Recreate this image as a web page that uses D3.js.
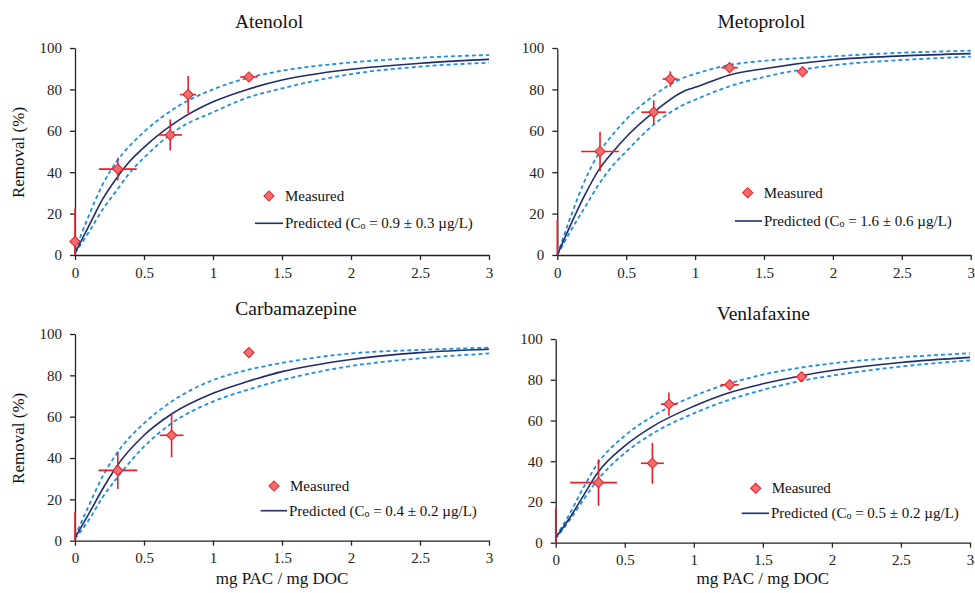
<!DOCTYPE html>
<html>
<head>
<meta charset="utf-8">
<script src="https://cdn.jsdelivr.net/npm/d3@7"></script>
<style>
  body { margin: 0; background: #fff; }
  svg { display: block; }
  svg text { font-family: "Liberation Serif", "Times New Roman", serif; }
</style>
</head>
<body>
<script>
// ---- data ----
const compounds = ["Atenolol", "Metoprolol", "Carbamazepine", "Venlafaxine"];
const c0Labels = ["0.9 ± 0.3", "1.6 ± 0.6", "0.4 ± 0.2", "0.5 ± 0.2"];
const xTicks = [0, 0.5, 1, 1.5, 2, 2.5, 3];
const yTicks = [0, 20, 40, 60, 80, 100];

// measured points (mg PAC / mg DOC, removal %)
const atenololX    = [0, 0.31, 0.69, 0.82, 1.26];
const atenololY    = [6.5, 41.5, 58, 77.5, 86];
const atenololXErr = [0, 0.137, 0.086, 0.058, 0.063];
const atenololYErr = [16, 5.5, 7.5, 9, 1.5];

const metoprololX    = [0, 0.31, 0.70, 0.82, 1.25, 1.78];
const metoprololY    = [0, 50, 69, 85, 90.5, 88.5];
const metoprololXErr = [0, 0.137, 0.09, 0.056, 0.06, 0];
const metoprololYErr = [17, 9.6, 5.7, 3.7, 1.5, 0];

const carbamazepineX    = [0, 0.31, 0.70, 1.26];
const carbamazepineY    = [0, 34, 51, 91];
const carbamazepineXErr = [0, 0.14, 0.086, 0];
const carbamazepineYErr = [14, 9, 10.7, 0];

const venlafaxineX    = [0, 0.31, 0.70, 0.82, 1.26, 1.78];
const venlafaxineY    = [0, 29.5, 39, 68, 77.5, 81.5];
const venlafaxineXErrLo = [0, 0.205, 0.083, 0.058, 0.066, 0];
const venlafaxineXErrHi = [0, 0.133, 0.083, 0.058, 0.066, 0];
const venlafaxineYErr = [16.8, 11.4, 10, 5.7, 2.5, 1.5];

// predicted curves (solid) and bounds (dashed)
const atenololCurveX = [0, 0.1, 0.2, 0.3, 0.4, 0.5, 0.75, 1, 1.25, 1.5, 2, 2.5, 3];
const atenololPred   = [1, 14, 27, 37, 45.5, 52, 65, 74, 80, 84.5, 89.7, 92.6, 94.5];
const atenololUpper  = [2, 19, 34, 45, 53, 59.5, 72, 80, 85.5, 89, 93, 95.3, 96.6];
const atenololLower  = [1, 11, 22, 31, 40, 47, 61, 69, 76, 80.5, 87.4, 91, 92.9];

const metoprololCurveX = [0, 0.1, 0.2, 0.3, 0.4, 0.5, 0.7, 0.93, 1, 1.25, 1.5, 2, 2.5, 3];
const metoprololPred   = [0, 15, 29, 41, 49.5, 57, 69, 79.5, 81, 87, 90, 94.3, 96.2, 97.3];
const metoprololUpper  = [0, 19, 36, 49, 58, 65.5, 77, 86, 87.5, 91.8, 93.8, 96, 97.7, 98.7];
const metoprololLower  = [0, 12, 23, 34, 43, 50, 63, 73, 75, 81.5, 86, 91.6, 94.2, 95.8];

const carbamazepineCurveX = [0, 0.1, 0.2, 0.3, 0.5, 0.7, 1, 1.25, 1.5, 2, 2.5, 3];
const carbamazepinePred   = [1.5, 13, 25, 35.8, 51, 61.3, 71.3, 77, 81.8, 87.7, 91, 92.6];
const carbamazepineUpper  = [2, 17, 31, 42, 56.8, 67.3, 77.7, 82.6, 86, 90.6, 92.3, 93.4];
const carbamazepineLower  = [1, 10, 21, 30, 45.5, 56.8, 67.3, 73, 77.7, 84.5, 88.2, 90.6];

const venlafaxineCurveX = [0, 0.1, 0.2, 0.3, 0.5, 0.7, 1, 1.25, 1.5, 1.78, 2, 2.5, 3];
const venlafaxinePred   = [2.5, 12, 23, 34, 47.5, 57, 67, 73.5, 78, 82, 84.5, 88.5, 91];
const venlafaxineUpper  = [3, 14, 27, 38.5, 52.5, 62, 72, 78, 82.5, 86, 88, 91, 93];
const venlafaxineLower  = [2, 11, 21, 30.5, 44, 53.5, 63.5, 70, 75, 79.5, 82, 86.5, 89.5];

// ---- assemble per-panel tables ----
const measured = [
  atenololX.map((x, i) => ({x, y: atenololY[i], xlo: atenololXErr[i], xhi: atenololXErr[i], ye: atenololYErr[i]})),
  metoprololX.map((x, i) => ({x, y: metoprololY[i], xlo: metoprololXErr[i], xhi: metoprololXErr[i], ye: metoprololYErr[i]})),
  carbamazepineX.map((x, i) => ({x, y: carbamazepineY[i], xlo: carbamazepineXErr[i], xhi: carbamazepineXErr[i], ye: carbamazepineYErr[i]})),
  venlafaxineX.map((x, i) => ({x, y: venlafaxineY[i], xlo: venlafaxineXErrLo[i], xhi: venlafaxineXErrHi[i], ye: venlafaxineYErr[i]}))
];
const curves = [
  [atenololCurveX, atenololPred, atenololUpper, atenololLower],
  [metoprololCurveX, metoprololPred, metoprololUpper, metoprololLower],
  [carbamazepineCurveX, carbamazepinePred, carbamazepineUpper, carbamazepineLower],
  [venlafaxineCurveX, venlafaxinePred, venlafaxineUpper, venlafaxineLower]
];

// ---- layout ----
const W = 975, H = 593;
const FONT = "'Liberation Serif', 'Times New Roman', serif";
const panels = [
  {x0: 75,    x1: 489,   top: 48,  bot: 255,   tx: 269,   ty: 28,  yLabel: true,  xLabel: false,
   leg: {dx: 194, dy: 148, ldx0: 180, ldx1: 208, ldy: 175.3}},
  {x0: 557.3, x1: 970.7, top: 48,  bot: 255,   tx: 761.3, ty: 28,  yLabel: false, xLabel: false,
   leg: {dx: 190.4, dy: 144.7, ldx0: 177.7, ldx1: 204.7, ldy: 173}},
  {x0: 75,    x1: 489,   top: 334, bot: 540.7, tx: 296,   ty: 315, yLabel: true,  xLabel: true,
   leg: {dx: 199, dy: 152, ldx0: 185.7, ldx1: 212, ldy: 176.7}},
  {x0: 555.7, x1: 970,   top: 339, bot: 542.7, tx: 763.3, ty: 320, yLabel: false, xLabel: true,
   leg: {dx: 200, dy: 149.3, ldx0: 186, ldx1: 213.3, ldy: 174.3}}
];

const red = "#ee1c24", redFill = "#f26d6d", navy = "#1f2d6b", blue = "#1d8ee0";

const svg = d3.select("body").append("svg")
  .attr("width", W)
  .attr("height", H)
  .attr("font-family", FONT);

const diamond = d3.symbol().type(d3.symbolSquare).size(52);

panels.forEach((p, k) => {
  const x = d3.scaleLinear().domain([0, 3]).range([p.x0, p.x1]);
  const y = d3.scaleLinear().domain([0, 100]).range([p.bot, p.top]);
  const g = svg.append("g");

  // axes
  const xAxis = d3.axisBottom(x).tickValues(xTicks).tickFormat(d3.format("")).tickSize(5).tickSizeOuter(0).tickPadding(7);
  const yAxis = d3.axisLeft(y).tickValues(yTicks).tickSize(5).tickSizeOuter(0).tickPadding(8);

  const gx = g.append("g").attr("transform", "translate(0," + p.bot + ")").call(xAxis);
  const gy = g.append("g").attr("transform", "translate(" + p.x0 + ",0)").call(yAxis);
  [gx, gy].forEach(a => {
    a.attr("font-family", FONT).attr("font-size", 15);
    a.selectAll("path, line").attr("stroke", "#222").attr("stroke-width", 1.3);
    a.selectAll("text").attr("fill", "#222");
  });

  // title
  g.append("text")
    .attr("x", p.tx).attr("y", p.ty)
    .attr("text-anchor", "middle")
    .attr("font-size", 19.5)
    .attr("fill", "#111")
    .text(compounds[k]);

  if (p.yLabel) {
    g.append("text")
      .attr("transform", "translate(24," + ((p.top + p.bot) / 2 + 1) + ") rotate(-90)")
      .attr("text-anchor", "middle")
      .attr("font-size", 17)
      .attr("fill", "#111")
      .text("Removal (%)");
  }
  if (p.xLabel) {
    g.append("text")
      .attr("x", (p.x0 + p.x1) / 2).attr("y", 584)
      .attr("text-anchor", "middle")
      .attr("font-size", 17)
      .attr("fill", "#111")
      .text("mg PAC / mg DOC");
  }

  // curves
  const [cx, pred, upper, lower] = curves[k];
  const line = d3.line()
    .x(d => x(d[0]))
    .y(d => y(d[1]))
    .curve(d3.curveMonotoneX);
  const pts = arr => cx.map((v, i) => [v, arr[i]]);

  g.append("path").datum(pts(upper))
    .attr("d", line).attr("fill", "none")
    .attr("stroke", blue).attr("stroke-width", 1.8).attr("stroke-dasharray", "4,3");
  g.append("path").datum(pts(lower))
    .attr("d", line).attr("fill", "none")
    .attr("stroke", blue).attr("stroke-width", 1.8).attr("stroke-dasharray", "4,3");
  g.append("path").datum(pts(pred))
    .attr("d", line).attr("fill", "none")
    .attr("stroke", navy).attr("stroke-width", 1.6);

  // error bars
  const data = measured[k];
  g.selectAll(".ey").data(data.filter(d => d.ye > 0)).enter()
    .append("line")
    .attr("x1", d => x(d.x)).attr("x2", d => x(d.x))
    .attr("y1", d => y(Math.max(0, d.y - d.ye))).attr("y2", d => y(d.y + d.ye))
    .attr("stroke", red).attr("stroke-width", 1.6);
  g.selectAll(".ex").data(data.filter(d => d.xlo > 0)).enter()
    .append("line")
    .attr("x1", d => x(d.x - d.xlo)).attr("x2", d => x(d.x + d.xhi))
    .attr("y1", d => y(d.y)).attr("y2", d => y(d.y))
    .attr("stroke", red).attr("stroke-width", 1.6);

  // markers (zero points sit hidden on the axis)
  g.selectAll(".pt").data(data.filter(d => d.y > 0)).enter()
    .append("path")
    .attr("d", diamond)
    .attr("transform", d => "translate(" + x(d.x) + "," + y(d.y) + ") rotate(45)")
    .attr("fill", redFill).attr("stroke", red).attr("stroke-width", 1);

  // legend
  const L = p.leg;
  g.append("path")
    .attr("d", diamond)
    .attr("transform", "translate(" + (p.x0 + L.dx) + "," + (p.top + L.dy) + ") rotate(45)")
    .attr("fill", redFill).attr("stroke", red).attr("stroke-width", 1);
  g.append("text")
    .attr("x", p.x0 + L.dx + 16).attr("y", p.top + L.dy + 5)
    .attr("font-size", 15).attr("fill", "#111")
    .text("Measured");
  g.append("line")
    .attr("x1", p.x0 + L.ldx0).attr("x2", p.x0 + L.ldx1)
    .attr("y1", p.top + L.ldy).attr("y2", p.top + L.ldy)
    .attr("stroke", navy).attr("stroke-width", 1.6);
  const t = g.append("text")
    .attr("x", p.x0 + L.ldx1 + 2).attr("y", p.top + L.ldy + 5)
    .attr("font-size", 15).attr("fill", "#111");
  t.append("tspan").text("Predicted (C");
  t.append("tspan").attr("dy", 1).attr("font-size", 10).text("o");
  t.append("tspan").attr("dy", -1).text(" = " + c0Labels[k] + " µg/L)");
});
</script>
</body>
</html>
